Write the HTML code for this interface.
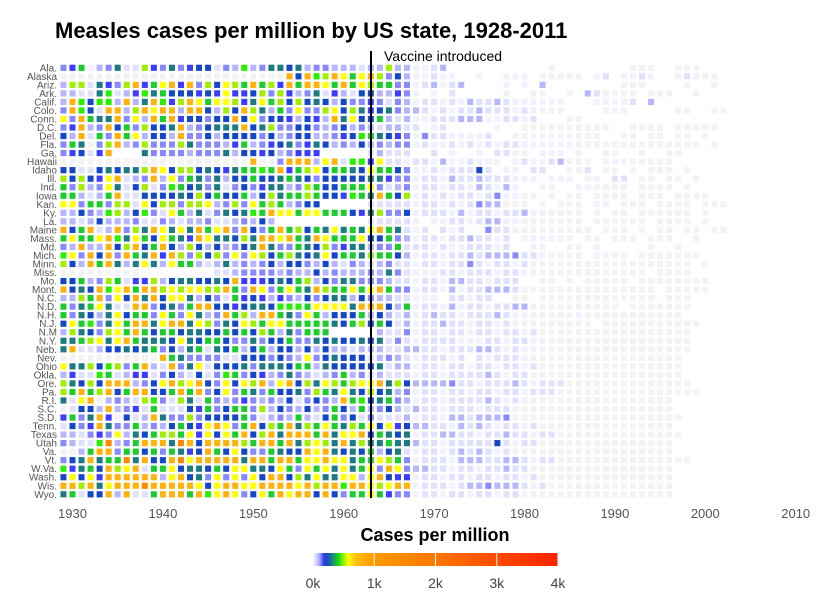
<!DOCTYPE html>
<html><head><meta charset="utf-8"><style>
html,body{margin:0;padding:0;background:#fff}
svg{display:block;font-family:"Liberation Sans",sans-serif}
</style></head><body>
<svg id="chart" width="837" height="602" viewBox="0 0 837 602">
<defs>
<linearGradient id="cbar" x1="0" x2="1" y1="0" y2="0"></linearGradient>
</defs>
<text x="55" y="38" font-size="22" font-weight="bold" fill="#000">Measles cases per million by US state, 1928-2011</text>
<g id="cells"></g>
<g id="ylabels"></g>
<g id="xlabels"></g>
<line x1="371" x2="371" y1="51" y2="498" stroke="#000" stroke-width="2"/>
<text x="384" y="61" font-size="14" fill="#000">Vaccine introduced</text>
<text x="435" y="541" font-size="18" font-weight="bold" text-anchor="middle" fill="#000">Cases per million</text>
<rect x="313" y="553" width="245" height="13" fill="url(#cbar)"/>
<g id="legendticks"></g>
</svg>
<script>
const states=["Ala.","Alaska","Ariz.","Ark.","Calif.","Colo.","Conn.","D.C.","Del.","Fla.","Ga.","Hawaii","Idaho","Ill.","Ind.","Iowa","Kan.","Ky.","La.","Maine","Mass.","Md.","Mich.","Minn.","Miss.","Mo.","Mont.","N.C.","N.D.","N.H.","N.J.","N.M","N.Y.","Neb.","Nev.","Ohio","Okla.","Ore.","Pa.","R.I.","S.C.","S.D.","Tenn.","Texas","Utah","Va.","Vt.","W.Va.","Wash.","Wis.","Wyo."];
const firstYear=1929;
const xTicks=[1930,1940,1950,1960,1970,1980,1990,2000,2010];
const legendTicks=[0,1000,2000,3000,4000];
const legendTickLabels=["0k","1k","2k","3k","4k"];
// level codes -> cases per million ('z' = no data, '.' = not drawn)
const levelValues={a:12,b:40,c:90,d:130,e:170,f:220,g:300,h:400,i:440,j:500,k:580,l:800,m:1500,n:2500};
// rates 1929-1967
const preVaccine=[
"dehacdgbbjedgdeffbdcicdggfgcddcccbccjcc",
"zzzzzzzzzzzzzzzzzzzzzzzzzlflijlkhkljdfc",
"cjjbgedjlehkleldjfkjhlhjelhllkhlhkjhhdd",
"ccbbgibceighfffefekeefjdjecdgbecbffcced",
"clifiiclcgliejlkhkkjegkhjfjfgfcfddedbdc",
"dlifbllcjlkllcllfcjfljgchdkddjkfjgefgdc",
"kdlhggldkclhleffdfflfkdffecfeclgkffhcbc",
"delcdlfhdjffglcdfggglfgjddffdcdfcdcbccb",
"fclbhdlhkcffclddfcffffdfcdffccdefihgfed",
"dhgadjlcdjdddjgdddcehcdefgdegfcdcfcdcdd",
"defbel...gddddcdddgcffefcdeee.....bcbbb",
"zzzzzzzzzzzzzzzzzzzzzlzzdlllcklbiiekbb",
"ffbbfgfggjlkfjjfgfeghhihlehjkfhhgfkhhfd",
"jfjfeklbcdlckdhgdgcffhffghgfdfffffggedd",
"hdjcdkgbfjbdihfgdgbdfdeggcdjhffhhhkdbcd",
"hhcbchlbbffffgfjfhffhcfjghhjhffeihglhfj",
"kkdhhdjjbkfjjdjjkcdjdkhjhcdff.....bbbbb",
"ccfdcijcfidbkhcgbdgfgihlkkhkkhhhfegjddf",
"ccbcfcccdbbdcbccdbbcdcfc..........bbbbb",
"lfhlbcldjglkgkglhkldlfdhlhjfhgkghgklhgb",
"hkhhkligkhfkhgelkggfjgllklhglkhhhkffhdc",
"dclcclfjlfhlfcjfcfcdfglgddhgfjdeggcddhb",
"ikdlfldlhgleljdjfjdkdkjfhjgfgkfhhgjhhfc",
"jfclhlgcgkgckhhcbcgcdcdfcffdcfcbdcbcdbb",
"zzzzzzzzz........bbcddddcdccfcdcccdcgdb",
"ffhcdjhbeejcfggffgfleeefgfhjcfdggdddcbb",
"lfgfliklhlljkjkkjjlhdlkdhkhgljhhkhklhdd",
"ccjhldkflglfkkgcfdbhefecedcfdfggcfdccbb",
"hdghkgbblldfgdhllffefggfiiihkkkkglllfch",
"hdgfcgkfhhdkhdkgcdlhjcllhgdkhcfffhcfcbc",
"fkhidgkhllgkllgkjdgfkjhkkhhhhhgfhjfhfbc",
"cjgfdjkhlhfhhfggffhfhfjhcgdhhh.....cbbd",
"gghjkgklhgggfkgfhhfddgdffhddgfgffgfgbdb",
"glbbcffgfghdfcghbgfhcfhcffcfcfccbcccbbc",
"zzzzzzzzzzzlhgddddbbfffdfdckdfgfffbcdcb",
"kggjfijdhlcbldgkbfffgdgggfhhcgfffffgbcc",
"cebbihbceebdfcbfbdihdfecdgdcbcdhcdbcbbb",
"jgfjflllcdfkljklfdkfkjlcklfjgkjhjkklgjf",
"jhlhjlfhllffhlhldfkdhgdhffgdjhgkgfjfgcd",
"gbklacdcbjidbjgbhdcdedcdcfbdfdclhifghdc",
"abffclcdebhbbbfehdfhhdjcfdcfcdhfchcdfcb",
"ehdgleafbclgddjdffffhdbcdchcbfhdfbdbbbc",
"bfdelgddhcdcfhfeklkdhlfjhlgjhkhgjhkfkef",
"ccbdedkcgfhjjhkekfkhlfjlglllhlgkklfhgfg",
"dcbbimcdhlllgmlflllljhllhlgjkjglgjgghgg",
"zzchlldhhfhdhgeflhfkfddhgfflklgfgfhcfgb",
"dfglghhmglfflmklllllgllhllhkklkkghhkjhd",
"ieghfljklbhhkfggfhfkkggfkhdkhkgkghkdlkd",
"fkfkellllllcklfgdkdkdkfllfjgkggkkcklfee",
"lljlgklllmlllllkfkllkkllllkljllillkjkll",
"ghbfflclbbhlllhliklkdfkhlkllflfdhhkhedd"];
// rates 1968-2002
const postVaccine=[
"aabc...........z........zzz..zzz...",
"aabaa..a..zaa.zzzzz.ab.zaba..abzzz.",
"abcabc....a.a.c........zzz....z..z.",
"a.a.b.....z..zz..z.cbzzzz.zzz..z...",
"abbabacbbcbaaaaaa...aaaab.c........",
"cbababbcbbbabaazz....aaa.....zz..zz",
"aabbbcccaabbab...aa................",
"b.ab.....a..zzzzzzzzzz..zzzz.zzzzz.",
"adbbaaaab..zzzaaaaazz..zz.zz.zz.z..",
"abaababababbaaaaaazzzzzzzzzzzzzz.z.",
"..b.a..a.bbzz.aza.z..zz..z..zz.....",
"abbacaabaaa.abaabczzz.aaazzzaz.....",
"aababbbfb.aa.bb..zzb.zz.z.azz.z....",
"abbacbbcbbbaaa.aaa.aa.bb.zz.zz.z...",
"abbabbacbaca..zz..aazzzz.zzzz.z....",
"abababbabdaazz.z.zz.zzzz.zzz.zzzz..",
"abbababdcczzz.z.zzz.aa.zzz.zzzz.zzz",
"abbbacabbabbcaazzzz.z.za.zzzzzz.z..",
"a.aabbabccaazzzzzzz.zzzzzz.zzzz.z..",
"ab.bab..dbbzzzzzzazz.zzz.z.zz.zz.zz",
"abbabbcbbab.aaaazz.zz.zzz.zzz..z...",
"bbabaabbbab..aa..za.a.....z..z.....",
"abbabbcbcccdbbaaazz.azzz.zzzzzzz...",
"abbabbdbabbabazzzzzazzzzzzzzzzz.z..",
"aaabbabbbabbaazzzzzzzzzzzz.zzzz....",
"abbaccbbabbb..aa.a.azzzz.zzzzzzzz..",
"abbacabbcccbaazzzzzzzzzzzzz.zzzzz..",
"aaa.bbabb..zz.zzzzzzzzzzzzz.zzz....",
"abbacabbabbcczzzazzzzzz.zzzzzzz....",
"abcbbabbbcbaazzzzzazzzzzzzzzzz.....",
"abbcbbabbabzzzzzzzzz.zzzzzzzzzzz...",
"abbabbabbabbabzzzzzzzzzzzzzzzzz....",
"abbbbaaabbabbazzzzzzzzzzzzzzzzz....",
"cbbabbbccbabaazzzzzzzzzzzzzzzzz....",
"abbbab.babbbazzzzzzzzzzzzzzzzz.....",
"abbabbabbabbabzzzzzzzzzzzzzzzz.....",
"abbabbbbcbabbzzzzzzzzzzzzzzzzz.....",
"ccccdbbabbbcbabbbzzzzzzzzzzzzzz....",
"abbabbabbabbabbbzzzzzzzzzzzzzzzz...",
"abbabbbbcbabzzzzzzzzzzzzzzzzz......",
"cbbabbbabbbazzzzzzzzzzzzzzzzz......",
"abbaccbcccdzzzzzzzzzzzzzzzzzzz.....",
"ccbbacbcbabbabzzzzzzzzzzzzzzz......",
"abbccbbabbcbbabbzzzzzzzzzzzzzz.....",
"cbbabbbbbfbabbzzzzzzzzzzzzzzz......",
"abbabcbcbabzzzzzzzzzzzzzzzzzz......",
"abbbacccbbccbabbzzzzzzzzzzzzzzz....",
"ccbbabbabbcbbzzzzzzzzzzzzzzzz......",
"abbabbabbabbabzzzzzzzzzzzzzzz......",
"abbbabccdcccbabzzzzzzzzzzzzzz......",
"abbabbabbabbzzzzzzzzzzzzzzzzz......"];

const NS="http://www.w3.org/2000/svg";
const xScale=y=>72.5+(y-1930)*9.04;
const yScale=i=>67.8+i*8.53;
const lx=v=>313+v/4000*245;
const stops=[[0,"#fafaff"],[40,"#e0e0ff"],[90,"#b6b6ff"],[130,"#8888ff"],[170,"#3c3cff"],[220,"#1447c8"],[300,"#1b7a82"],[380,"#1fb54a"],[430,"#14ee00"],[500,"#a0ee00"],[580,"#ffff00"],[700,"#ffbf10"],[1000,"#ff9900"],[2000,"#ff7700"],[3000,"#ff4a00"],[4000,"#ff2200"]];
function hex(c){return [1,3,5].map(i=>parseInt(c.substr(i,2),16));}
function color(v){
  if(v<=stops[0][0])return stops[0][1];
  for(let i=1;i<stops.length;i++){
    if(v<=stops[i][0]){const a=hex(stops[i-1][1]),b=hex(stops[i][1]);const t=(v-stops[i-1][0])/(stops[i][0]-stops[i-1][0]);
      return "rgb("+a.map((x,k)=>Math.round(x+(b[k]-x)*t)).join(",")+")";}
  }
  return stops[stops.length-1][1];
}
const cells=document.getElementById("cells");
states.forEach((s,i)=>{
  const row=(preVaccine[i]+postVaccine[i]);
  for(let k=0;k<row.length;k++){
    const ch=row[k]; if(ch==='.'||ch===' ')continue;
    const yr=firstYear+k;
    const r=document.createElementNS(NS,"rect");
    r.setAttribute("x",(xScale(yr)-3).toFixed(2));
    r.setAttribute("y",(yScale(i)-3.1).toFixed(2));
    r.setAttribute("width","6");r.setAttribute("height","6.2");
    r.setAttribute("fill",ch==='z'?"#f3f3f3":color(levelValues[ch]));
    
    
    cells.appendChild(r);
  }
  const t=document.createElementNS(NS,"text");
  t.setAttribute("x","57");t.setAttribute("y",(yScale(i)+3.5).toFixed(2));
  t.setAttribute("text-anchor","end");t.setAttribute("font-size","10");t.setAttribute("fill","#555");
  t.textContent=s;
  
  
  document.getElementById("ylabels").appendChild(t);
});
xTicks.forEach(y=>{
  const t=document.createElementNS(NS,"text");
  t.setAttribute("x",xScale(y));t.setAttribute("y","518");t.setAttribute("text-anchor","middle");
  t.setAttribute("font-size","13");t.setAttribute("fill","#555");t.textContent=y;
  
  
  document.getElementById("xlabels").appendChild(t);
});
const g=document.getElementById("cbar");
for(let v=0;v<=4000;v+=25){
  const s=document.createElementNS(NS,"stop");
  s.setAttribute("offset",(v/4000));s.setAttribute("stop-color",color(v));g.appendChild(s);
}
const lt=document.getElementById("legendticks");
legendTicks.forEach((v,i)=>{
  if(v>0){const l=document.createElementNS(NS,"line");
  l.setAttribute("x1",lx(v));l.setAttribute("x2",lx(v));l.setAttribute("y1","553");l.setAttribute("y2","566");
  l.setAttribute("stroke","#fff");l.setAttribute("stroke-width","1");
  
  
  lt.appendChild(l);}
  const t=document.createElementNS(NS,"text");
  t.setAttribute("x",lx(v));t.setAttribute("y","588");t.setAttribute("text-anchor","middle");
  t.setAttribute("font-size","14");t.setAttribute("fill","#444");t.textContent=legendTickLabels[i];
  
  
  lt.appendChild(t);
});
</script>
</body></html>
